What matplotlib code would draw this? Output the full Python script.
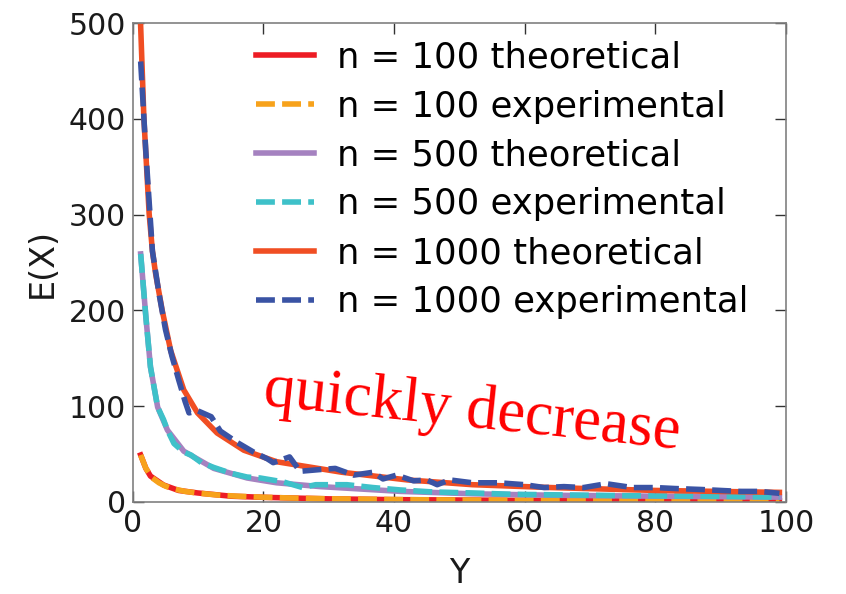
import matplotlib
matplotlib.use("Agg")
import matplotlib.pyplot as plt

# theoretical curves, values
g_t1000 = [1.2, 1.7, 2.5, 3.0, 3.5, 4.5, 5.8, 7.8, 9.9, 12.9, 17, 22, 32, 42,
           52, 64, 80, 99]
theo_1000 = [497, 400, 301, 262, 238, 200, 158, 117, 93, 72, 54, 42, 31, 23,
             18, 15, 12, 10]
g_t500 = [1.2, 2, 2.7, 3.8, 5.3, 7.8, 12.4, 17.5, 22, 28.7, 41, 52, 64, 80, 99]
theo_500 = [259, 193, 141, 99, 75, 53, 35, 25, 20, 16, 11, 8.5, 7, 6, 5]
g_t100 = [1.2, 2, 2.7, 4.7, 7, 9.9, 15, 20, 30, 40, 60, 80, 99]
theo_100 = [49, 35, 27, 17.7, 12, 9.4, 6, 4.8, 3.2, 2.4, 1.6, 1.2, 1]

# experimental curves
g_e1000 = [1.2, 2, 3, 4, 5, 6, 7, 8, 8.6, 10, 12, 13.4, 16, 18.5, 20.6, 21.5,
           24, 25.6, 29, 31, 33.8, 36.8, 38.3, 40.4, 43, 45, 46.6, 48.5, 52,
           56, 60, 63, 66, 69, 72.5, 76.5, 80, 83, 87, 90, 93, 96, 99]
exp_1000 = [460, 365, 262, 218, 180, 152, 128, 105, 93, 95, 89, 74, 62, 52, 45,
            41, 47, 32, 34, 35, 28, 31, 24, 28, 22, 23, 18, 23, 20, 20, 18, 15,
            16, 15, 19, 15, 15, 14, 13, 12, 11, 11, 9]
g_e500 = [1.2, 2, 2.7, 3.8, 4.7, 5.3, 6.3, 7.8, 8.9, 10.5, 12.4, 15, 17.5, 19.5,
          23, 26, 28, 32.8, 36.8, 41, 46, 52, 58, 64, 70, 76, 82, 88, 94, 99]
exp_500 = [259, 193, 141, 99, 86, 75, 61, 52, 49, 41, 36, 30, 26, 25, 21, 15,
           18, 18, 15, 12.5, 10.4, 9.4, 8, 7.5, 7, 6.5, 6.2, 6, 5.5, 5]
g_e100 = [1.2, 2, 3, 4, 5, 6, 8, 10, 13, 16, 20, 25, 30, 40, 50, 60, 70, 80,
          90, 99]
exp_100 = [49, 35, 25, 20, 16.5, 14, 11, 9.2, 7.2, 6, 4.9, 4, 3.3, 2.5, 2,
           1.7, 1.5, 1.3, 1.1, 1]

fig = plt.figure(figsize=(8.46, 5.94), dpi=100)
ax = fig.add_axes([0.157, 0.155, 0.772, 0.806])

lw = 4
dash = (3.4, 1.3)
ax.plot(g_t100, theo_100, color='#ed1c24', lw=lw, label='n = 100 theoretical')
ax.plot(g_e100, exp_100, color='#f7a21b', lw=lw, dashes=dash, label='n = 100 experimental')
ax.plot(g_t500, theo_500, color='#a582c0', lw=lw, label='n = 500 theoretical')
ax.plot(g_e500, exp_500, color='#3ec1c9', lw=lw, dashes=dash, label='n = 500 experimental')
ax.plot(g_t1000, theo_1000, color='#f04e23', lw=lw, label='n = 1000 theoretical')
ax.plot(g_e1000, exp_1000, color='#3a53a4', lw=lw, dashes=dash, label='n = 1000 experimental')

ax.set_xlim(0, 100)
ax.set_ylim(0, 500)
ax.set_xticks([0, 20, 40, 60, 80, 100])
ax.set_yticks([0, 100, 200, 300, 400, 500])
ax.tick_params(direction='in', top=True, right=True, length=8, width=1,
               color='#333333', labelsize=21.5, labelcolor='#1a1a1a', pad=5)
for s in ax.spines.values():
    s.set_color('#808080')
    s.set_linewidth(1.2)

ax.set_xlabel('Y', fontsize=24, color='#1a1a1a', labelpad=14)
ax.set_ylabel('E(X)', fontsize=24, color='#1a1a1a', labelpad=7)

ax.legend(loc='upper right', bbox_to_anchor=(0.97, 1.0), frameon=False,
          fontsize=25.5, handlelength=1.65, handletextpad=0.65,
          labelspacing=0.42, borderaxespad=0.2, borderpad=0.3)

ax.text(52, 94, 'quickly decrease', color='red', fontsize=45,
        family='Liberation Serif', rotation=-6, ha='center', va='center')

fig.savefig('out.png', dpi=100)
